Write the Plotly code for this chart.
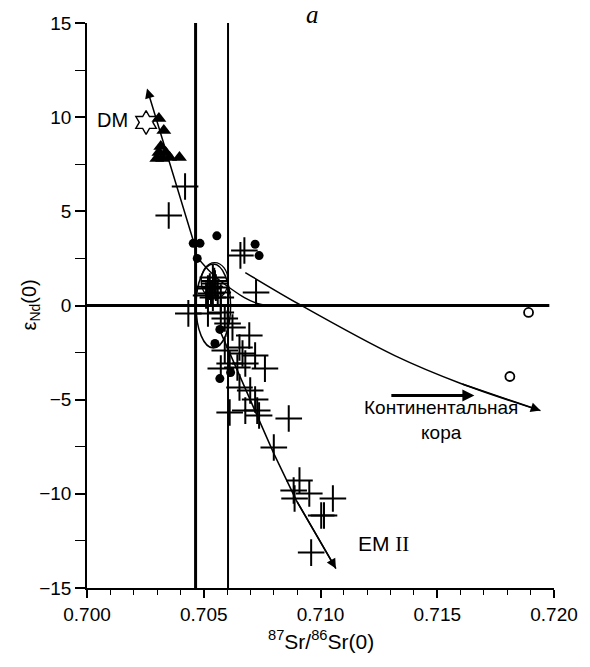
import plotly.graph_objects as go

# --- Sample data: 87Sr/86Sr(0) vs eps_Nd(0) ---
cross_sr = [0.70420, 0.70350, 0.70657, 0.70674, 0.70724,
            0.70539, 0.70548, 0.70518, 0.70531, 0.70560, 0.70539, 0.70573, 0.70510,
            0.70526, 0.70552, 0.70545,
            0.70434, 0.70518, 0.70573, 0.70590, 0.70602, 0.70623, 0.70695,
            0.70590, 0.70653, 0.70666, 0.70720,
            0.70573, 0.70611, 0.70644, 0.70678, 0.70762,
            0.70653, 0.70699, 0.70720,
            0.70611, 0.70678, 0.70729, 0.70737,
            0.70864, 0.70800,
            0.70910, 0.70885, 0.70952, 0.70889, 0.71053, 0.71015, 0.71003, 0.70960]
cross_nd = [6.32, 4.78, 2.66, 2.92, 0.69,
            1.49, 1.17, 0.90, 0.64, 0.69, 0.42, 0.42, 0.53,
            1.00, 0.95, 1.30,
            -0.42, -0.42, -0.37, -0.69, -0.96, -1.17, -1.59,
            -2.39, -2.23, -2.55, -2.66,
            -3.35, -3.08, -3.29, -3.08, -3.35,
            -4.35, -4.51, -4.99,
            -5.68, -5.58, -5.58, -5.84,
            -6.00, -7.54,
            -9.29, -9.82, -9.98, -10.25, -10.25, -11.15, -11.15, -13.12]

dot_sr = [0.70455, 0.70484, 0.70556, 0.70472, 0.70720, 0.70737,
          0.70569, 0.70548, 0.70615, 0.70569]
dot_nd = [3.30, 3.30, 3.70, 2.50, 3.25, 2.65,
          -1.27, -2.02, -3.56, -3.88]

tri_sr = [0.70308, 0.70329, 0.70316, 0.70308, 0.70337, 0.70324, 0.70354, 0.70396, 0.70299]
tri_nd = [9.93, 9.29, 8.44, 8.13, 8.13, 7.81, 7.86, 7.86, 7.81]

open_sr = [0.71891, 0.71811]
open_nd = [-0.37, -3.77]

dm_sr, dm_nd = 0.70253, 9.72

# reference lines
sr_bulk_earth = 0.70465
sr_upper = 0.70604
nd_zero_end = 0.71980

# trend curves
dm_arrow_tail = (0.70455, 3.45)
dm_arrow_head = (0.70257, 11.52)

em2_sr = [0.70569, 0.70644, 0.70729, 0.70800, 0.70897, 0.71066]
em2_nd = [-1.33, -3.45, -5.95, -7.86, -10.36, -13.97]

mix_sr = [0.70476, 0.70531, 0.70569, 0.70615, 0.70674, 0.70729, 0.70771]
mix_nd = [2.50, 1.75, 1.33, 0.90, 0.42, 0.11, 0.0]

crust_sr = [0.70678, 0.70918, 0.71318, 0.71601, 0.71942]
crust_nd = [1.75, 0.0, -2.66, -4.14, -5.58]

crust_label_arrow = (0.71297, 0.71659, -4.78)

# field outlines (x0, x1, y0, y1)
field_big = (0.70467, 0.70615, -2.25, 2.20)
field_small = (0.70489, 0.70604, 0.35, 2.28)

BLACK = "#000000"
SANS = "Liberation Sans, Arial, sans-serif"
SERIF = "Liberation Serif, Times New Roman, serif"

fig = go.Figure()

# curves
fig.add_trace(go.Scatter(x=em2_sr, y=em2_nd, mode="lines",
                         line=dict(color=BLACK, width=1.6), hoverinfo="skip"))
fig.add_trace(go.Scatter(x=mix_sr, y=mix_nd, mode="lines", line_shape="spline",
                         line=dict(color=BLACK, width=1.4), hoverinfo="skip"))
fig.add_trace(go.Scatter(x=crust_sr, y=crust_nd, mode="lines", line_shape="spline",
                         line=dict(color=BLACK, width=1.5), hoverinfo="skip"))

# samples
fig.add_trace(go.Scatter(x=cross_sr, y=cross_nd, mode="markers",
                         marker=dict(symbol="cross-thin-open", size=19, color=BLACK,
                                     line=dict(color=BLACK, width=2))))
fig.add_trace(go.Scatter(x=dot_sr, y=dot_nd, mode="markers",
                         marker=dict(symbol="circle", size=9, color=BLACK)))
fig.add_trace(go.Scatter(x=tri_sr, y=tri_nd, mode="markers",
                         marker=dict(symbol="triangle-up", size=13, color=BLACK)))
fig.add_trace(go.Scatter(x=open_sr, y=open_nd, mode="markers",
                         marker=dict(symbol="circle-open", size=9, color=BLACK,
                                     line=dict(color=BLACK, width=1.8))))
fig.add_trace(go.Scatter(x=[dm_sr], y=[dm_nd], mode="markers",
                         marker=dict(symbol="hexagram-open", size=18, color=BLACK,
                                     line=dict(color=BLACK, width=1.4))))

shapes = [
    dict(type="line", xref="x", yref="y", x0=sr_bulk_earth, x1=sr_bulk_earth,
         y0=-15, y1=15, line=dict(color=BLACK, width=3)),
    dict(type="line", xref="x", yref="y", x0=sr_upper, x1=sr_upper,
         y0=-15, y1=15, line=dict(color=BLACK, width=2)),
    dict(type="line", xref="x", yref="y", x0=0.700, x1=nd_zero_end,
         y0=0, y1=0, line=dict(color=BLACK, width=3)),
    dict(type="circle", xref="x", yref="y", x0=field_big[0], x1=field_big[1],
         y0=field_big[2], y1=field_big[3], line=dict(color=BLACK, width=1.5)),
    dict(type="circle", xref="x", yref="y", x0=field_small[0], x1=field_small[1],
         y0=field_small[2], y1=field_small[3], line=dict(color=BLACK, width=1.3)),
]

def arrow(tail, head, width=1.5, size=1.3):
    return dict(x=head[0], y=head[1], ax=tail[0], ay=tail[1],
                xref="x", yref="y", axref="x", ayref="y",
                text="", showarrow=True, arrowhead=2, arrowsize=size,
                arrowwidth=width, arrowcolor=BLACK, standoff=0)

annotations = [
    arrow(dm_arrow_tail, dm_arrow_head),
    arrow((em2_sr[-2], em2_nd[-2]), (em2_sr[-1], em2_nd[-1])),
    arrow((crust_sr[-2], crust_nd[-2]), (crust_sr[-1], crust_nd[-1])),
    arrow((crust_label_arrow[0], crust_label_arrow[2]),
          (crust_label_arrow[1], crust_label_arrow[2]), width=3, size=0.8),
    dict(x=0.70110, y=9.85, xref="x", yref="y", text="DM", showarrow=False,
         font=dict(family=SANS, size=20, color=BLACK)),
    dict(x=0.71268, y=-12.64, xref="x", yref="y",
         text="EM <span style='font-family:Liberation Serif, serif'>II</span>",
         showarrow=False, font=dict(family=SANS, size=21, color=BLACK)),
    dict(x=0.71515, y=-6.1, xref="x", yref="y", text="Континентальная<br>кора",
         showarrow=False, font=dict(family=SANS, size=19, color=BLACK)),
    dict(x=0.70965, y=15, xref="x", yref="y", yshift=9,
         text="<i>a</i>", showarrow=False,
         font=dict(family=SERIF, size=25, color=BLACK)),
    dict(x=0, y=0.5, xref="paper", yref="paper", xshift=-57, xanchor="center",
         yanchor="middle", textangle=-90,
         text="ε<sub>Nd</sub>(0)", showarrow=False,
         font=dict(family=SANS, size=20, color=BLACK)),
    dict(x=0.5, y=0, xref="paper", yref="paper", yshift=-52, yanchor="middle",
         text="<sup>87</sup>Sr/<sup>86</sup>Sr(0)", showarrow=False,
         font=dict(family=SANS, size=21, color=BLACK)),
]

x_ticks = [0.700, 0.705, 0.710, 0.715, 0.720]
y_ticks = [-15, -10, -5, 0, 5, 10, 15]

fig.update_layout(
    width=590, height=667,
    margin=dict(l=87, r=28, t=23, b=79),
    paper_bgcolor="white", plot_bgcolor="white",
    showlegend=False,
    shapes=shapes, annotations=annotations,
    font=dict(family=SANS, size=19, color=BLACK),
    xaxis=dict(range=[0.700, 0.720], tickvals=x_ticks,
               ticktext=[f"{v:.3f}" for v in x_ticks],
               showgrid=False, zeroline=False, showline=True,
               linecolor=BLACK, linewidth=1.5,
               ticks="outside", ticklen=8, tickwidth=1.5, tickcolor=BLACK,
               minor=dict(dtick=0.001, ticks="outside", ticklen=5,
                          tickwidth=1.3, tickcolor=BLACK, showgrid=False),
               tickfont=dict(family=SANS, size=19, color=BLACK)),
    yaxis=dict(range=[-15, 15], tickvals=y_ticks,
               ticktext=[f"{v:d}".replace("-", "\u2212") for v in y_ticks],
               showgrid=False, zeroline=False, showline=True,
               linecolor=BLACK, linewidth=1.5,
               ticks="outside", ticklen=10, tickwidth=1.5, tickcolor=BLACK,
               minor=dict(dtick=2.5, ticks="outside", ticklen=10,
                          tickwidth=1.3, tickcolor=BLACK, showgrid=False),
               tickfont=dict(family=SANS, size=19, color=BLACK)),
)

fig.write_html("out.html")
